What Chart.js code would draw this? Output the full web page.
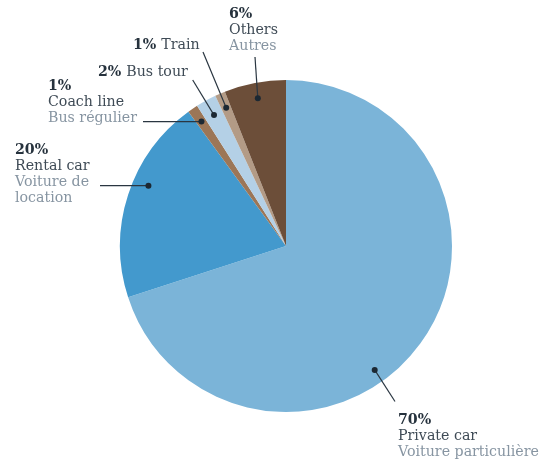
<!DOCTYPE html>
<html>
<head>
<meta charset="utf-8">
<script src="https://cdn.jsdelivr.net/npm/chart.js@4"></script>
<style>
  html, body { margin: 0; padding: 0; background: #fff; }
  #wrap { width: 544px; height: 459px; position: relative; }
</style>
</head>
<body>
<div id="wrap"><canvas id="c" width="544" height="459"></canvas></div>
<script>
// ---- data ----
const categories = ['Private car', 'Rental car', 'Coach line', 'Bus tour', 'Train', 'Others'];
const frenchLabels = ['Voiture particulière', 'Voiture de\nlocation', 'Bus régulier', '', '', 'Autres'];
const shares = [70, 20, 1, 2, 1, 6];
const sliceColors = ['#7bb4d8', '#4399cd', '#9c7657', '#b4d0e6', '#b39b86', '#6c4e39'];

// ---- label layout (annotation styling, not data) ----
const labelLayout = [
  { x: 398, y: 423.5, inline: false, anchorFrac: 0.573, anchorR: 0.918, lineEnd: [395, 401.5] },
  { x: 15, y: 153.5, inline: false, anchorFrac: 0.579, anchorR: 0.905, lineEnd: [100, null] },
  { x: 48, y: 89.5, inline: false, anchorFrac: 0.5, anchorR: 0.906, lineEnd: [143, null] },
  { x: 98, y: 76, inline: true, anchorFrac: 0.5, anchorR: 0.9, lineEnd: [192.7, 80] },
  { x: 133, y: 49.3, inline: true, anchorFrac: 0.5, anchorR: 0.907, lineEnd: [203, 52] },
  { x: 229, y: 17.5, inline: false, anchorFrac: 0.5, anchorR: 0.906, lineEnd: [255, 57] }
];

const FONT = '"DejaVu Serif", serif';
const FS = 14.2;
const LH = 16;
const C_DARK = '#26323d';
const C_EN = '#3f4b56';
const C_FR = '#8795a2';

const leaderPlugin = {
  id: 'leaders',
  afterDatasetsDraw(chart) {
    const ctx = chart.ctx;
    const meta = chart.getDatasetMeta(0);
    meta.data.forEach((arc, i) => {
      const L = labelLayout[i];
      const a = arc.startAngle + L.anchorFrac * (arc.endAngle - arc.startAngle);
      const r = arc.outerRadius * L.anchorR;
      const dx = arc.x + Math.cos(a) * r;
      const dy = arc.y + Math.sin(a) * r;
      const ex = L.lineEnd[0];
      const ey = L.lineEnd[1] === null ? dy : L.lineEnd[1];
      ctx.save();
      ctx.strokeStyle = '#2a3641';
      ctx.lineWidth = 1.2;
      ctx.beginPath();
      ctx.moveTo(ex, ey);
      ctx.lineTo(dx, dy);
      ctx.stroke();
      ctx.fillStyle = '#1c2833';
      ctx.beginPath();
      ctx.arc(dx, dy, 3, 0, Math.PI * 2);
      ctx.fill();

      // text
      ctx.textBaseline = 'alphabetic';
      ctx.textAlign = 'left';
      const pct = shares[i] + '%';
      ctx.font = 'bold ' + FS + 'px ' + FONT;
      ctx.fillStyle = C_DARK;
      ctx.fillText(pct, L.x, L.y);
      let y = L.y;
      if (L.inline) {
        const w = ctx.measureText(pct + ' ').width;
        ctx.font = FS + 'px ' + FONT;
        ctx.fillStyle = C_EN;
        ctx.fillText(categories[i], L.x + w, y);
      } else {
        y += LH;
        ctx.font = FS + 'px ' + FONT;
        ctx.fillStyle = C_EN;
        ctx.fillText(categories[i], L.x, y);
      }
      if (frenchLabels[i]) {
        ctx.fillStyle = C_FR;
        frenchLabels[i].split('\n').forEach(line => {
          y += LH;
          ctx.fillText(line, L.x, y);
        });
      }
      ctx.restore();
    });
  }
};

new Chart(document.getElementById('c'), {
  type: 'pie',
  data: {
    labels: categories,
    datasets: [{
      data: shares,
      backgroundColor: sliceColors,
      borderWidth: 0
    }]
  },
  options: {
    responsive: false,
    animation: false,
    layout: { padding: { left: 120, right: 92, top: 80, bottom: 47 } },
    plugins: {
      legend: { display: false },
      tooltip: { enabled: false }
    }
  },
  plugins: [leaderPlugin]
});
</script>
</body>
</html>
